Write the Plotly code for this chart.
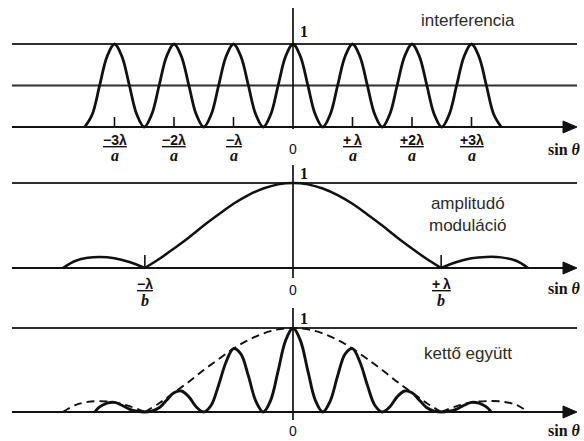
import numpy as np
import plotly.graph_objects as go

# ---------------------------------------------------------------------------
# Data (horizontal unit: lambda / a)
# ---------------------------------------------------------------------------
LAMBDA_OVER_B = 2.49          # first zero of the amplitude envelope

# two-slit interference, sampled every 1/8 unit from -3.5 to +3.5
interf_s = np.linspace(-3.5, 3.5, 57)
interf_y = [0, 0.15, 0.5, 0.85, 1, 0.85, 0.5, 0.15,
            0, 0.15, 0.5, 0.85, 1, 0.85, 0.5, 0.15,
            0, 0.15, 0.5, 0.85, 1, 0.85, 0.5, 0.15,
            0, 0.15, 0.5, 0.85, 1, 0.85, 0.5, 0.15,
            0, 0.15, 0.5, 0.85, 1, 0.85, 0.5, 0.15,
            0, 0.15, 0.5, 0.85, 1, 0.85, 0.5, 0.15,
            0, 0.15, 0.5, 0.85, 1, 0.85, 0.5, 0.15,
            0]

# amplitude envelope: main lobe and the two side lobes
env_main_s = [-2.49, -2.25, -2.0, -1.75, -1.5, -1.25, -1.0, -0.75, -0.5, -0.25,
              0, 0.25, 0.5, 0.75, 1.0, 1.25, 1.5, 1.75, 2.0, 2.25, 2.49]
env_main_y = [0, 0.105, 0.23, 0.36, 0.50, 0.63, 0.755, 0.857, 0.935, 0.984,
              1, 0.984, 0.935, 0.857, 0.755, 0.63, 0.50, 0.36, 0.23, 0.105, 0]
env_left_s = [-3.87, -3.65, -3.45, -3.25, -3.0, -2.75, -2.49]
env_left_y = [0, 0.085, 0.12, 0.13, 0.115, 0.07, 0]
env_right_s = [2.49, 2.75, 3.0, 3.25, 3.5, 3.75, 3.95]
env_right_y = [0, 0.07, 0.115, 0.13, 0.125, 0.085, 0]

# both effects together
combo_s = [-3.33, -3.25, -3.125, -3.0, -2.875, -2.75, -2.625, -2.5, -2.375, -2.25,
           -2.125, -2.0, -1.875, -1.75, -1.625, -1.5, -1.375, -1.25, -1.125, -1.0,
           -0.875, -0.75, -0.625, -0.5, -0.375, -0.25, -0.125, 0,
           0.125, 0.25, 0.375, 0.5, 0.625, 0.75, 0.875, 1.0, 1.125, 1.25,
           1.375, 1.5, 1.625, 1.75, 1.875, 2.0, 2.125, 2.25, 2.375, 2.5,
           2.625, 2.75, 2.875, 3.0, 3.125, 3.25, 3.33]
combo_y = [0, 0.06, 0.105, 0.115, 0.08, 0.035, 0.01, 0, 0.01, 0.05,
           0.14, 0.23, 0.25, 0.18, 0.06, 0, 0.08, 0.32, 0.595, 0.755,
           0.69, 0.43, 0.13, 0, 0.14, 0.49, 0.85, 1,
           0.85, 0.49, 0.14, 0, 0.13, 0.43, 0.69, 0.755, 0.595, 0.32,
           0.08, 0, 0.06, 0.18, 0.25, 0.23, 0.14, 0.05, 0.01, 0,
           0.01, 0.035, 0.08, 0.115, 0.105, 0.06, 0]

# tick labels
interf_ticks = [-3, -2, -1, 1, 2, 3]
interf_nums = ["\u22123\u03bb", "\u22122\u03bb", "\u2212\u03bb", "+\u2009\u03bb", "+2\u03bb", "+3\u03bb"]
env_ticks = [-LAMBDA_OVER_B, LAMBDA_OVER_B]
env_nums = ["\u2212\u03bb", "+\u2009\u03bb"]
titles = ["interferencia", "amplitudó<br>moduláció", "kettő együtt"]

# ---------------------------------------------------------------------------
# Geometry helpers (pixels -> axis / paper coordinates)
# ---------------------------------------------------------------------------
W, H = 584, 441
X0_PX, PX_UNIT = 293, 59.5


def px_x(px):
    return (px - X0_PX) / PX_UNIT


def pap_y(py):
    return 1 - py / H


# panel: (y=1 pixel, y=0 pixel, top pixel, bottom pixel)
panels = {
    "y": (44, 127, 0, 138),
    "y2": (183, 268, 138, 300),
    "y3": (328, 412, 300, 441),
}


def unit(ref):
    one, zero, _, _ = panels[ref]
    return zero - one


def py_data(ref, py):
    one, zero, _, _ = panels[ref]
    return (zero - py) / (zero - one)


INK = "#111111"
GRID = "#2e2e2e"

fig = go.Figure()


def curve(x, y, ref, width=2.8, dash=None):
    fig.add_trace(go.Scatter(
        x=x, y=y, mode="lines", xaxis="x", yaxis=ref,
        line=dict(color=INK, width=width, shape="spline", dash=dash),
        hoverinfo="skip", showlegend=False))


# panel 1: interference
curve(interf_s, interf_y, "y")
# panel 2: amplitude envelope
curve(env_main_s, env_main_y, "y2", 2.5)
curve(env_left_s, env_left_y, "y2", 2.5)
curve(env_right_s, env_right_y, "y2", 2.5)
# panel 3: dashed envelope + product
for xs, ys in [(env_main_s, env_main_y), (env_left_s, env_left_y), (env_right_s, env_right_y)]:
    curve(xs, ys, "y3", 1.9, dash="8px,5px")
curve(combo_s, combo_y, "y3", 2.9)

shapes = []
annotations = []
L_X = px_x(12)
R_X = px_x(577)
TIP_X = px_x(577)
BASE_X = px_x(563)


def line(ref, x0, y0, x1, y1, width=1.8, color=GRID):
    shapes.append(dict(type="line", xref="x", yref=ref, x0=x0, y0=y0, x1=x1, y1=y1,
                       line=dict(color=color, width=width), layer="below"))


def text(x, py, s, size, family, xref="x", xanchor="center", color=INK):
    annotations.append(dict(x=x, y=pap_y(py), xref=xref, yref="paper", text=s,
                            showarrow=False, xanchor=xanchor, yanchor="middle",
                            font=dict(size=size, family=family, color=color)))


# horizontal reference lines, axes with arrows, vertical axes
guide_levels = {"y": [1, 0.5], "y2": [1], "y3": [1]}
vaxis_px = {"y": (8, 129), "y2": (165, 278), "y3": (308, 420)}
for ref, levels in guide_levels.items():
    for lv in levels:
        line(ref, L_X, lv, R_X, lv)
    line(ref, L_X, 0, BASE_X + 0.05, 0, width=2.2, color=INK)
    h = 6 / unit(ref)
    shapes.append(dict(type="path", xref="x", yref=ref,
                       path=f"M {TIP_X},0 L {BASE_X},{h} L {BASE_X},{-h} Z",
                       fillcolor=INK, line=dict(color=INK, width=1)))
    top, bot = vaxis_px[ref]
    line(ref, 0, py_data(ref, top), 0, py_data(ref, bot), width=1.7, color=INK)

# tick marks
for t in interf_ticks:
    line("y", t, 0, t, 10 / unit("y"), width=1.6, color=INK)
for t in env_ticks:
    line("y2", t, 0, t, 13 / unit("y2"), width=1.6, color=INK)

SANS = "Liberation Sans, Arial, sans-serif"
SERIF = "Liberation Serif, Times New Roman, serif"

# fraction tick labels
for t, num in zip(interf_ticks, interf_nums):
    text(t, 140, f"<b><u>{num}</u></b>", 14, SANS)
    text(t, 156, "<b><i>a</i></b>", 16, SERIF)
for t, num in zip(env_ticks, env_nums):
    text(t, 284, f"<b><u>{num}</u></b>", 14, SANS)
    text(t, 300, "<b><i>b</i></b>", 16, SERIF)

# zero / one labels and axis titles
for py0, py1, pys in [(149, 31, 150), (290, 173, 288), (431, 318, 430)]:
    text(0, py0, "0", 14, SANS)
    text(px_x(298), py1, "<b>1</b>", 16, SERIF, xanchor="left")
    text(583 / W, pys, "<b>sin <i>\u03b8</i></b>", 16, SERIF, xref="paper", xanchor="right")

# panel captions
for py, s in zip([20, 215, 353], titles):
    text(px_x(468), py, s, 17, SANS, color="#2a2a2a")

layout_axes = {}
for ref, (one, zero, top, bot) in panels.items():
    u = zero - one
    name = "yaxis" if ref == "y" else "yaxis" + ref[1:]
    layout_axes[name] = dict(domain=[1 - bot / H, 1 - top / H],
                             range=[(zero - bot) / u, (zero - top) / u],
                             visible=False, fixedrange=True, anchor="x")

fig.update_layout(
    width=W, height=H,
    margin=dict(l=0, r=0, t=0, b=0),
    paper_bgcolor="white", plot_bgcolor="white",
    xaxis=dict(range=[px_x(0), px_x(W)], visible=False, fixedrange=True, anchor="y"),
    shapes=shapes, annotations=annotations,
    showlegend=False,
    **layout_axes,
)

fig.write_html("out.html", config={"displayModeBar": False})
